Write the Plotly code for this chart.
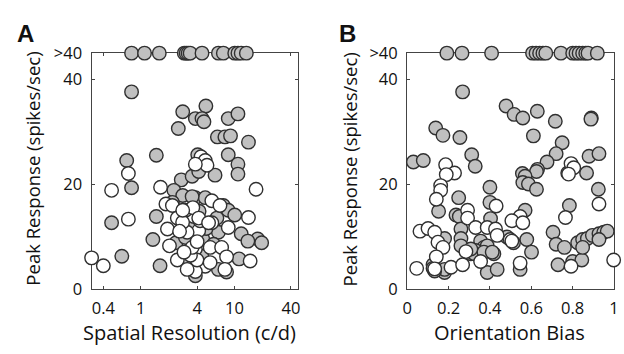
import plotly.graph_objects as go

W, H = 624, 354

# ---------------- data ----------------
OVER = 45  # plotted position of the ">40" category

# Panel A : Spatial resolution (c/d) vs peak response
a_over_x = [0.80, 1.10, 1.58, 2.92, 3.06, 3.21, 3.37, 4.51, 6.75, 7.61, 10.07, 10.9, 11.8, 13.4]

a_gray_x = [0.80, 2.81, 4.96, 3.83, 4.51, 4.73, 2.52, 8.59, 10.9, 6.58, 7.91, 9.08, 14.1, 1.47, 0.71,
            4.06, 8.59, 10.9, 2.71, 6.21, 10.9, 3.54, 4.16, 0.80, 2.26, 2.81, 2.18, 3.83, 4.88, 7.61,
            8.59, 10.07, 0.49, 1.47, 11.8, 17.7, 19.5, 13.9, 1.35, 6.74, 11.2, 6.74, 8.24, 3.83, 0.63,
            1.61, 3.54, 2.38, 3.3, 4.6, 3.0, 5.0, 4.5, 3.2, 6.0, 4.2, 6.5]
a_gray_y = [37.6, 33.8, 34.9, 32.5, 32.5, 31.9, 30.6, 32.5, 33.4, 29.0, 29.0, 29.2, 28.0, 25.5, 24.5,
            25.6, 25.6, 23.8, 20.8, 21.7, 21.9, 21.5, 22.4, 19.3, 18.8, 17.8, 16.5, 17.4, 17.4, 15.9,
            15.0, 14.1, 12.6, 13.8, 10.5, 9.5, 8.8, 9.1, 9.4, 10.8, 5.7, 3.7, 3.2, 2.5, 6.2,
            4.4, 17.6, 8.8, 12.0, 9.5, 9.8, 11.5, 6.2, 5.0, 8.5, 14.8, 13.5]

a_white_x = [4.40, 4.88, 5.10, 3.83, 0.74, 0.49, 1.63, 17.0, 1.86, 5.74, 7.01, 14.1, 0.74, 3.69, 5.74,
             8.59, 1.93, 4.16, 5.51, 7.30, 8.24, 14.7, 3.83, 7.91, 4.88, 3.83, 3.99, 0.30, 0.40, 2.18,
             2.46, 3.01, 3.13, 2.03, 2.46, 3.13, 3.40, 3.54, 2.8, 4.3, 2.6, 4.0, 5.5, 3.6, 2.9, 4.16,
             5.3, 2.81]
a_white_y = [25.2, 24.5, 23.6, 23.8, 22.0, 18.8, 19.4, 19.0, 16.2, 16.8, 15.9, 13.6, 13.3, 13.8, 12.6,
             11.7, 11.4, 11.1, 7.9, 7.9, 6.1, 5.3, 7.6, 3.7, 4.3, 3.3, 5.5, 5.9, 4.4, 15.9,
             13.5, 15.0, 10.8, 8.2, 5.5, 3.7, 6.4, 7.9, 12.7, 13.0, 11.0, 9.0, 5.0, 15.5, 7.0, 13.5,
             12.6, 15.0]

# Panel B : Orientation bias vs peak response
b_over_x = [0.192, 0.265, 0.408, 0.606, 0.623, 0.640, 0.656, 0.670, 0.743, 0.800, 0.816, 0.831,
            0.848, 0.863, 0.874, 0.919]

b_gray_x = [0.268, 0.478, 0.517, 0.559, 0.629, 0.716, 0.890, 0.888, 0.138, 0.173, 0.255, 0.610, 0.749,
            0.312, 0.329, 0.030, 0.078, 0.720, 0.676, 0.630, 0.879, 0.927, 0.557, 0.776, 0.867, 0.625,
            0.570, 0.559, 0.586, 0.625, 0.924, 0.400, 0.249, 0.400, 0.152, 0.236, 0.252, 0.570, 0.403,
            0.260, 0.181, 0.260, 0.260, 0.355, 0.371, 0.482, 0.514, 0.578, 0.601, 0.419, 0.387, 0.181,
            0.181, 0.387, 0.435, 0.546, 0.705, 0.720, 0.760, 0.784, 0.729, 0.800, 0.844, 0.824, 0.848,
            0.871, 0.895, 0.927, 0.950, 0.967, 0.927, 0.848, 0.125, 0.125, 0.133, 0.308, 0.331, 0.324,
            0.371, 0.411, 0.308]
b_gray_y = [37.6, 34.9, 33.3, 32.6, 33.9, 32.0, 32.6, 32.4, 30.7, 29.3, 28.9, 29.2, 27.9,
            25.6, 23.4, 24.2, 24.5, 25.8, 24.2, 22.8, 25.3, 25.8, 22.0, 22.1, 22.1, 22.4,
            21.5, 20.3, 20.0, 19.0, 19.0, 19.4, 17.4, 16.5, 14.8, 14.1, 13.8, 15.0, 13.4,
            11.4, 9.6, 9.6, 8.2, 9.1, 7.9, 9.9, 8.8, 9.4, 7.0, 6.7, 8.2, 3.1,
            3.7, 3.1, 3.7, 3.7, 10.8, 8.5, 7.9, 15.9, 4.6, 5.2, 5.5, 8.8, 9.4,
            9.6, 10.2, 10.5, 10.8, 11.0, 9.4, 7.9, 4.6, 3.9, 3.4, 6.7, 7.3, 6.7,
            7.0, 7.0, 7.6]

b_white_x = [0.186, 0.229, 0.792, 0.805, 0.780, 0.189, 0.927, 0.162, 0.162, 0.141, 0.430, 0.292, 0.292,
             0.546, 0.506, 0.559, 0.331, 0.062, 0.101, 0.133, 0.387, 0.427, 0.435, 0.149, 0.173, 0.284,
             0.141, 0.046, 0.212, 0.268, 0.355, 0.546, 0.765, 0.792, 0.998, 0.498, 0.506, 0.133]
b_white_y = [23.7, 22.1, 23.9, 23.1, 21.9, 21.8, 16.2, 19.7, 18.8, 17.1, 15.8, 15.0, 13.5,
             13.8, 13.0, 12.6, 11.7, 11.0, 11.5, 10.8, 11.7, 11.4, 10.2, 8.9, 7.9, 7.1,
             6.1, 3.9, 4.1, 4.6, 5.2, 4.9, 13.6, 4.3, 5.5, 9.4, 9.1, 3.8]

y_tickvals = [0, 20, 40, OVER]
y_ticktext = ["0", "20", "40", ">40"]
a_tickvals = [0.4, 1, 4, 10, 40]
a_ticktext = ["0.4", "1", "4", "10", "40"]
b_tickvals = [0, 0.2, 0.4, 0.6, 0.8, 1]
b_ticktext = ["0", "0.2", "0.4", "0.6", "0.8", "1"]

# ---------------- style ----------------
GRAY = "#c0c0c0"
EDGE = "#303030"
MSIZE = 13.5
FONT = "Open Sans"
TXT = "#111111"

def mk(x, y, fill, xa, ya):
    return go.Scatter(x=x, y=y, mode="markers", xaxis=xa, yaxis=ya, cliponaxis=False,
                      marker=dict(size=MSIZE, color=fill, line=dict(color=EDGE, width=1.4)),
                      showlegend=False, hoverinfo="skip")

fig = go.Figure()
fig.add_trace(mk(a_over_x, [OVER] * len(a_over_x), GRAY, "x", "y"))
fig.add_trace(mk(a_gray_x, a_gray_y, GRAY, "x", "y"))
fig.add_trace(mk(a_white_x, a_white_y, "white", "x", "y"))
fig.add_trace(mk(b_over_x, [OVER] * len(b_over_x), GRAY, "x2", "y2"))
fig.add_trace(mk(b_gray_x, b_gray_y, GRAY, "x2", "y2"))
fig.add_trace(mk(b_white_x, b_white_y, "white", "x2", "y2"))

ax_common = dict(showline=True, linecolor="#444", linewidth=1.3, mirror="ticks", ticks="inside",
                 ticklen=3, tickwidth=1, tickcolor="#444", showgrid=False, zeroline=False,
                 layer="below traces", tickfont=dict(family=FONT, size=16.5, color=TXT))

ydom = [(H - 296) / H, (H - 44) / H]
fig.update_layout(
    width=W, height=H, margin=dict(l=0, r=0, t=0, b=0),
    paper_bgcolor="white", plot_bgcolor="white",
    xaxis=dict(type="log", range=[-0.523, 1.68], domain=[88 / W, 298 / W], anchor="y",
               tickvals=a_tickvals, ticktext=a_ticktext, ticklabelstandoff=4, **ax_common),
    yaxis=dict(range=[0, OVER], domain=ydom, anchor="x",
               tickvals=y_tickvals, ticktext=y_ticktext, ticklabelstandoff=5, **ax_common),
    xaxis2=dict(range=[0, 1], domain=[408.7 / W, 619 / W], anchor="y2",
                tickvals=b_tickvals, ticktext=b_ticktext, ticklabelstandoff=4, **ax_common),
    yaxis2=dict(range=[0, OVER], domain=ydom, anchor="x2",
                tickvals=y_tickvals, ticktext=y_ticktext, ticklabelstandoff=5, **ax_common),
)

def ann(text, x, y, size, bold=False, angle=0, xanchor="center", yanchor="middle", family=FONT):
    fig.add_annotation(text=("<b>%s</b>" % text) if bold else text, x=x / W, y=1 - y / H,
                       xref="paper", yref="paper", showarrow=False, textangle=angle,
                       xanchor=xanchor, yanchor=yanchor, borderpad=0,
                       font=dict(family=family, size=size, color=TXT))

ann("A", 11, 23, 24, bold=True, xanchor="left", family="Liberation Sans")
ann("B", 338, 23, 24, bold=True, xanchor="left", family="Liberation Sans")
ann("Peak Response (spikes/sec)", 28, 168, 18.5, angle=-90)
ann("Peak Response (spikes/sec)", 350, 168, 18.5, angle=-90)
ann("Spatial Resolution (c/d)", 188, 343, 20)
ann("Orientation Bias", 513, 343, 20)

fig.write_html("out.html")
